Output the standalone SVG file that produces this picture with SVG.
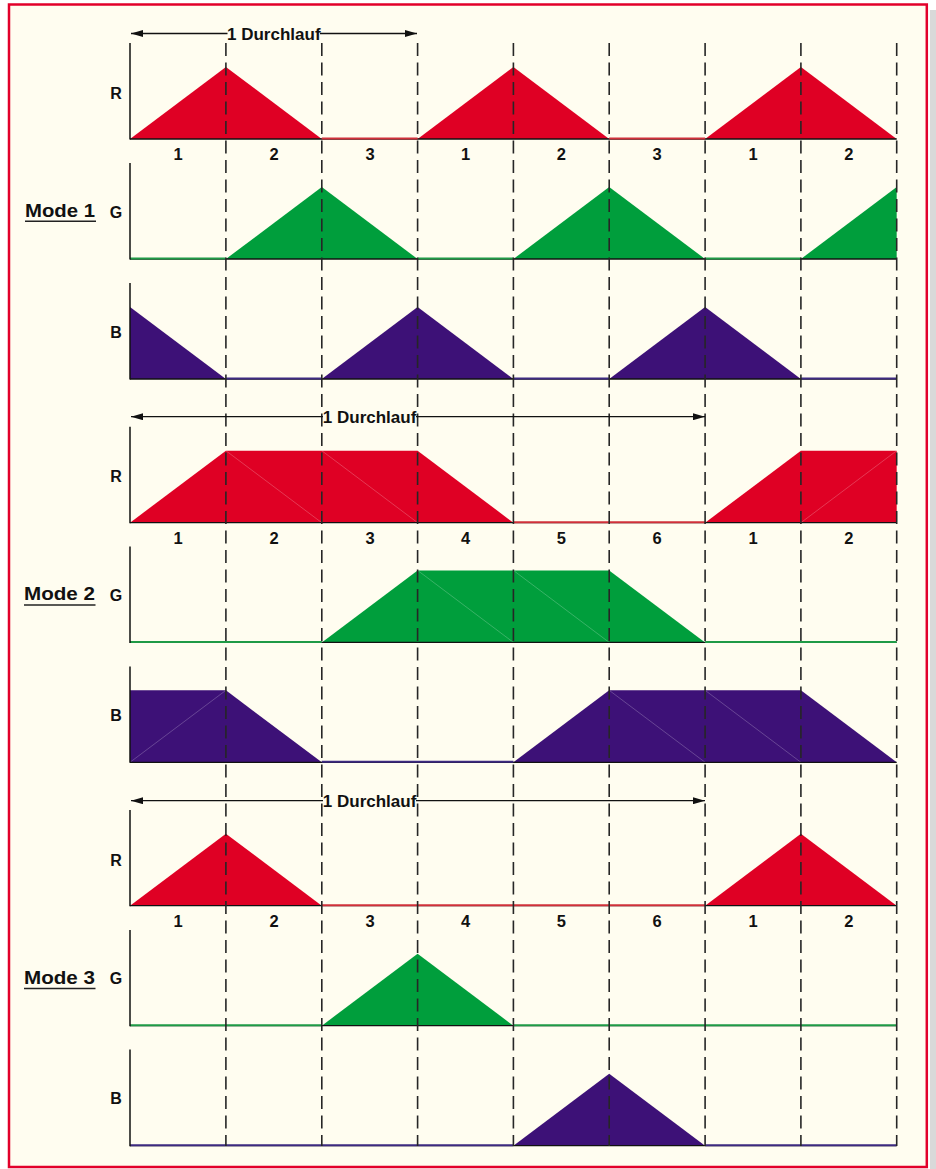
<svg xmlns="http://www.w3.org/2000/svg" width="936" height="1169" viewBox="0 0 936 1169">
<style>
.lbl{font-family:"Liberation Sans",Arial,sans-serif;font-weight:bold;font-size:16px;fill:#111;text-anchor:middle}
.num{font-family:"Liberation Sans",Arial,sans-serif;font-weight:bold;font-size:16.5px;fill:#111;text-anchor:middle}
.mode{font-family:"Liberation Sans",Arial,sans-serif;font-weight:bold;font-size:19px;fill:#111}
.dur{font-family:"Liberation Sans",Arial,sans-serif;font-weight:bold;font-size:17px;fill:#111;text-anchor:middle}
.r{fill:#df0024}
.g{fill:#009e3c}
.b{fill:#3d1177}
.fr{stroke:#d0303a;stroke-width:2;fill:none}
.fg{stroke:#1f9a46;stroke-width:2;fill:none}
.fb{stroke:#3d2a80;stroke-width:2;fill:none}
.seam{stroke:#ffffff;stroke-opacity:0.28;stroke-width:0.8;fill:none}
.base{stroke:#111;stroke-width:1.3;fill:none}
.axis{stroke:#111;stroke-width:1.5;fill:none}
.dash{stroke:#262626;stroke-width:1.6;stroke-dasharray:13 6.5;fill:none}
.arr{stroke:#111;stroke-width:1.3;fill:none}
.ul{stroke:#222;stroke-width:1.6;fill:none}
</style>
<defs>
<marker id="ah" viewBox="0 0 12 7" refX="12" refY="3.5" markerWidth="12" markerHeight="7" markerUnits="userSpaceOnUse" orient="auto-start-reverse">
<path d="M0,0 L12,3.5 L0,7 Z" fill="#111"/>
</marker>
</defs>
<rect x="0" y="0" width="936" height="1169" fill="#ffffff"/>
<rect x="930" y="10" width="6" height="1159" fill="#d9d9d9"/>
<rect x="9" y="4.5" width="917.8" height="1162.5" fill="#fffdf0" stroke="#e2002a" stroke-width="2.5"/>

<!-- Mode 1 -->
<g id="mode1-label">
<text class="mode" x="25" y="217.4" textLength="70" lengthAdjust="spacingAndGlyphs">Mode 1</text>
<line class="ul" x1="25" y1="221.2" x2="96" y2="221.2"/>
</g>
<g id="mode1-R">
<polygon class="r" points="130,139 225.9,67 321.8,139"/>
<polygon class="r" points="417.6,139 513.4,67 609.2,139"/>
<polygon class="r" points="705.1,139 800.9,67 896.7,139"/>
<line class="base" x1="130" y1="139" x2="896.7" y2="139"/>
<path class="fr" d="M321.8,138.5 H417.6 M609.2,138.5 H705.1"/>
<line class="axis" x1="130" y1="43" x2="130" y2="139.5"/>
<text class="lbl" x="116" y="98.8">R</text>
<text class="num" x="178" y="160">1</text>
<text class="num" x="274" y="160">2</text>
<text class="num" x="370" y="160">3</text>
<text class="num" x="465.5" y="160">1</text>
<text class="num" x="561.3" y="160">2</text>
<text class="num" x="657.2" y="160">3</text>
<text class="num" x="753" y="160">1</text>
<text class="num" x="848.8" y="160">2</text>
</g>
<g id="mode1-G">
<polygon class="g" points="225.9,259 321.8,187 417.6,259"/>
<polygon class="g" points="513.4,259 609.2,187 705.1,259"/>
<polygon class="g" points="800.9,259 896.7,187 896.7,259"/>
<line class="base" x1="130" y1="259" x2="896.7" y2="259"/>
<path class="fg" d="M130,258.5 H225.9 M417.6,258.5 H513.4 M705.1,258.5 H800.9"/>
<line class="axis" x1="130" y1="163" x2="130" y2="259.5"/>
<text class="lbl" x="116" y="217.5">G</text>
</g>
<g id="mode1-B">
<polygon class="b" points="130,307 225.9,379 130,379"/>
<polygon class="b" points="321.8,379 417.6,307 513.4,379"/>
<polygon class="b" points="609.2,379 705.1,307 800.9,379"/>
<line class="base" x1="130" y1="379" x2="896.7" y2="379"/>
<path class="fb" d="M225.9,378.5 H321.8 M513.4,378.5 H609.2 M800.9,378.5 H896.7"/>
<line class="axis" x1="130" y1="283" x2="130" y2="379.5"/>
<text class="lbl" x="116" y="337.5">B</text>
</g>

<!-- Mode 2 -->
<g id="mode2-label">
<text class="mode" x="24" y="599.8" textLength="71" lengthAdjust="spacingAndGlyphs">Mode 2</text>
<line class="ul" x1="24" y1="605" x2="95.5" y2="605"/>
</g>
<g id="mode2-R">
<polygon class="r" points="130,522.7 225.9,450.7 417.6,450.7 513.4,522.7"/>
<polygon class="r" points="705.1,522.7 800.9,450.7 896.7,450.7 896.7,522.7"/>
<path class="seam" d="M225.9,450.7 L321.8,522.7 M321.8,450.7 L417.6,522.7 M800.9,522.7 L896.7,450.7"/>
<line class="base" x1="130" y1="522.7" x2="896.7" y2="522.7"/>
<path class="fr" d="M513.4,522.2 H705.1"/>
<line class="axis" x1="130" y1="426.7" x2="130" y2="523.2"/>
<text class="lbl" x="116" y="482">R</text>
<text class="num" x="178" y="543.5">1</text>
<text class="num" x="274" y="543.5">2</text>
<text class="num" x="370" y="543.5">3</text>
<text class="num" x="465.5" y="543.5">4</text>
<text class="num" x="561.3" y="543.5">5</text>
<text class="num" x="657.2" y="543.5">6</text>
<text class="num" x="753" y="543.5">1</text>
<text class="num" x="848.8" y="543.5">2</text>
</g>
<g id="mode2-G">
<polygon class="g" points="321.8,642.4 417.6,570.4 609.2,570.4 705.1,642.4"/>
<path class="seam" d="M417.6,570.4 L513.4,642.4 M513.4,570.4 L609.2,642.4"/>
<line class="base" x1="130" y1="642.4" x2="896.7" y2="642.4"/>
<path class="fg" d="M130,641.9 H321.8 M705.1,641.9 H896.7"/>
<line class="axis" x1="130" y1="546.5" x2="130" y2="642.9"/>
<text class="lbl" x="116" y="601">G</text>
</g>
<g id="mode2-B">
<polygon class="b" points="130,690.3 225.9,690.3 321.8,762.3 130,762.3"/>
<polygon class="b" points="513.4,762.3 609.2,690.3 800.9,690.3 896.7,762.3"/>
<path class="seam" d="M130,762.3 L225.9,690.3 M609.2,690.3 L705.1,762.3 M705.1,690.3 L800.9,762.3"/>
<line class="base" x1="130" y1="762.3" x2="896.7" y2="762.3"/>
<path class="fb" d="M321.8,761.8 H513.4"/>
<line class="axis" x1="130" y1="666.5" x2="130" y2="762.8"/>
<text class="lbl" x="116" y="721">B</text>
</g>

<!-- Mode 3 -->
<g id="mode3-label">
<text class="mode" x="24" y="983.8" textLength="71" lengthAdjust="spacingAndGlyphs">Mode 3</text>
<line class="ul" x1="24" y1="988.5" x2="95.5" y2="988.5"/>
</g>
<g id="mode3-R">
<polygon class="r" points="130,905.7 225.9,833.7 321.8,905.7"/>
<polygon class="r" points="705.1,905.7 800.9,833.7 896.7,905.7"/>
<line class="base" x1="130" y1="905.7" x2="896.7" y2="905.7"/>
<path class="fr" d="M321.8,905.2 H705.1"/>
<line class="axis" x1="130" y1="810" x2="130" y2="906.2"/>
<text class="lbl" x="116" y="866">R</text>
<text class="num" x="178" y="926.8">1</text>
<text class="num" x="274" y="926.8">2</text>
<text class="num" x="370" y="926.8">3</text>
<text class="num" x="465.5" y="926.8">4</text>
<text class="num" x="561.3" y="926.8">5</text>
<text class="num" x="657.2" y="926.8">6</text>
<text class="num" x="753" y="926.8">1</text>
<text class="num" x="848.8" y="926.8">2</text>
</g>
<g id="mode3-G">
<polygon class="g" points="321.8,1025.7 417.6,953.7 513.4,1025.7"/>
<line class="base" x1="130" y1="1025.7" x2="896.7" y2="1025.7"/>
<path class="fg" d="M130,1025.2 H321.8 M513.4,1025.2 H896.7"/>
<line class="axis" x1="130" y1="930" x2="130" y2="1026.2"/>
<text class="lbl" x="116" y="984">G</text>
</g>
<g id="mode3-B">
<polygon class="b" points="513.4,1145.7 609.2,1073.7 705.1,1145.7"/>
<line class="base" x1="130" y1="1145.7" x2="896.7" y2="1145.7"/>
<path class="fb" d="M130,1145.2 H513.4 M705.1,1145.2 H896.7"/>
<line class="axis" x1="130" y1="1049.5" x2="130" y2="1146.2"/>
<text class="lbl" x="116" y="1104.3">B</text>
</g>

<!-- grid -->
<g id="grid">
<path class="dash" d="M225.9,43 V1146 M321.8,43 V1146 M417.6,43 V1146 M513.4,43 V1146 M609.2,43 V1146 M705.1,43 V1146 M800.9,43 V1146 M896.7,43 V1146"/>
</g>

<!-- connectors: run-length arrows -->
<g id="connectors">
<line class="arr" x1="227.5" y1="33.5" x2="131" y2="33.5" marker-end="url(#ah)"/>
<line class="arr" x1="320" y1="33.5" x2="417" y2="33.5" marker-end="url(#ah)"/>
<text class="dur" x="273.8" y="39.6">1 Durchlauf</text>
<line class="arr" x1="323" y1="416.7" x2="131" y2="416.7" marker-end="url(#ah)"/>
<line class="arr" x1="416" y1="416.7" x2="705" y2="416.7" marker-end="url(#ah)"/>
<text class="dur" x="369.6" y="422.8">1 Durchlauf</text>
<line class="arr" x1="323" y1="800.7" x2="131" y2="800.7" marker-end="url(#ah)"/>
<line class="arr" x1="416" y1="800.7" x2="705" y2="800.7" marker-end="url(#ah)"/>
<text class="dur" x="369.6" y="806.8">1 Durchlauf</text>
</g>
</svg>
